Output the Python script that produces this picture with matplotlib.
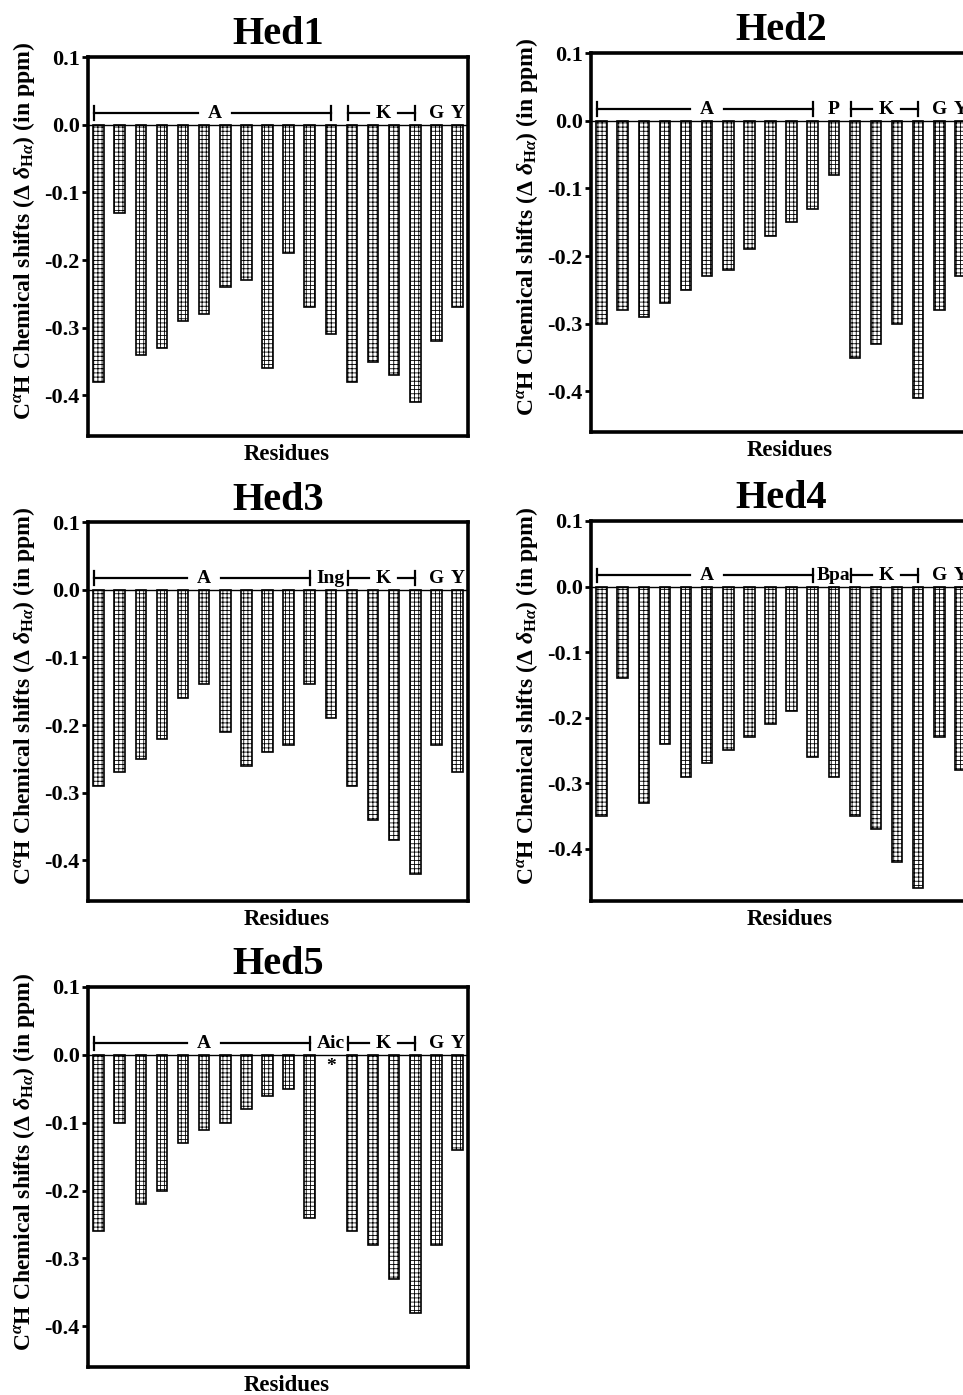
import matplotlib
matplotlib.use("Agg")
import matplotlib.pyplot as plt
import numpy as np

plt.rcParams['font.family'] = ['Liberation Serif', 'DejaVu Serif']
plt.rcParams['font.weight'] = 'bold'
plt.rcParams['axes.unicode_minus'] = False
plt.rcParams['mathtext.fontset'] = 'custom'
plt.rcParams['mathtext.rm'] = 'Liberation Serif:bold'
plt.rcParams['mathtext.it'] = 'Liberation Serif:italic:bold'
plt.rcParams['mathtext.bf'] = 'Liberation Serif:bold'
plt.rcParams['hatch.linewidth'] = 0.6

# ---------------- data ----------------
titles = ["Hed1", "Hed2", "Hed3", "Hed4", "Hed5"]

hed1 = [-0.38, -0.13, -0.34, -0.33, -0.29, -0.28, -0.24, -0.23, -0.36, -0.19,
        -0.27, -0.31, -0.38, -0.35, -0.37, -0.41, -0.32, -0.27]
hed2 = [-0.30, -0.28, -0.29, -0.27, -0.25, -0.23, -0.22, -0.19, -0.17, -0.15,
        -0.13, -0.08, -0.35, -0.33, -0.30, -0.41, -0.28, -0.23]
hed3 = [-0.29, -0.27, -0.25, -0.22, -0.16, -0.14, -0.21, -0.26, -0.24, -0.23,
        -0.14, -0.19, -0.29, -0.34, -0.37, -0.42, -0.23, -0.27]
hed4 = [-0.35, -0.14, -0.33, -0.24, -0.29, -0.27, -0.25, -0.23, -0.21, -0.19,
        -0.26, -0.29, -0.35, -0.37, -0.42, -0.46, -0.23, -0.28]
hed5 = [-0.26, -0.10, -0.22, -0.20, -0.13, -0.11, -0.10, -0.08, -0.06, -0.05,
        -0.24, np.nan, -0.26, -0.28, -0.33, -0.38, -0.28, -0.14]
series = [hed1, hed2, hed3, hed4, hed5]

# residue group annotations: (label, first bar, last bar)
groups = [
    [("A", 0, 11), ("K", 12, 15), ("G", 16, 16), ("Y", 17, 17)],
    [("A", 0, 10), ("P", 11, 11), ("K", 12, 15), ("G", 16, 16), ("Y", 17, 17)],
    [("A", 0, 10), ("Ing", 11, 11), ("K", 12, 15), ("G", 16, 16), ("Y", 17, 17)],
    [("A", 0, 10), ("Bpa", 11, 11), ("K", 12, 15), ("G", 16, 16), ("Y", 17, 17)],
    [("A", 0, 10), ("Aic", 11, 11), ("K", 12, 15), ("G", 16, 16), ("Y", 17, 17)],
]
missing_mark = [None, None, None, None, 11]

ylims = [(-0.46, 0.1), (-0.46, 0.1), (-0.46, 0.1), (-0.48, 0.1), (-0.46, 0.1)]
yticks = [0.1, 0.0, -0.1, -0.2, -0.3, -0.4]

# axes boxes in pixels: left, top, right, bottom
W, H = 963, 1395
boxes = [(88, 57, 468, 436), (591, 53, 971, 432),
         (88, 522, 468, 901), (591, 521, 971, 901),
         (88, 987, 468, 1367)]

fig = plt.figure(figsize=(W / 100, H / 100), dpi=100)

for title, vals, grp, mark, ylim, box in zip(titles, series, groups, missing_mark, ylims, boxes):
    l, t, r, b = box
    ax = fig.add_axes([l / W, 1 - b / H, (r - l) / W, (b - t) / H])
    x = np.arange(len(vals))
    ax.bar(x, vals, width=0.5, color='white', edgecolor='black',
           linewidth=1.2, hatch='++++', zorder=2)
    ax.axhline(0, color='black', lw=1.0, zorder=3)
    ax.set_xlim(-0.5, len(vals) - 0.5)
    ax.set_ylim(*ylim)
    ax.set_yticks(yticks)
    ax.set_yticklabels([f"{v:.1f}" for v in yticks])
    ax.set_xticks([])
    for s in ax.spines.values():
        s.set_linewidth(2.6)
    ax.tick_params(axis='y', direction='out', length=4, width=2,
                   labelsize=16, pad=2)
    for lab in ax.get_yticklabels():
        lab.set_fontweight('bold')
    ax.set_title(title, fontsize=29, fontweight='bold', pad=9)
    ax.set_xlabel("Residues", fontsize=16.5, fontweight='bold')
    ax.xaxis.set_label_coords(0.523, -0.022, transform=ax.transAxes)
    ax.xaxis.label.set_va('top')
    ax.set_ylabel(r"C$^{\alpha}$H Chemical shifts ($\Delta$ $\delta_{\mathrm{H}\alpha}$) (in ppm)",
                  fontsize=17, fontweight='bold')
    ax.yaxis.set_label_coords(-0.135, 0.54)

    # group annotations
    yl = 0.017
    th = 0.010
    for lab, s0, s1 in grp:
        cx = (s0 + s1) / 2
        if s1 > s0:
            x0, x1 = s0 - 0.2, s1
            g = 0.8 if lab == "A" else 0.7
            ax.plot([x0, cx - g], [yl, yl], color='black', lw=1.6, zorder=4)
            ax.plot([cx + g, x1], [yl, yl], color='black', lw=1.6, zorder=4)
            ax.plot([x0, x0], [yl - th, yl + th], color='black', lw=1.6, zorder=4)
            ax.plot([x1, x1], [yl - th, yl + th], color='black', lw=1.6, zorder=4)
        ax.text(cx, yl, lab, ha='center', va='center', fontsize=14,
                fontweight='bold', zorder=5)
    if mark is not None:
        ax.text(mark, -0.017, "*", ha='center', va='center', fontsize=14,
                fontweight='bold')

fig.savefig("out.png", dpi=100)
